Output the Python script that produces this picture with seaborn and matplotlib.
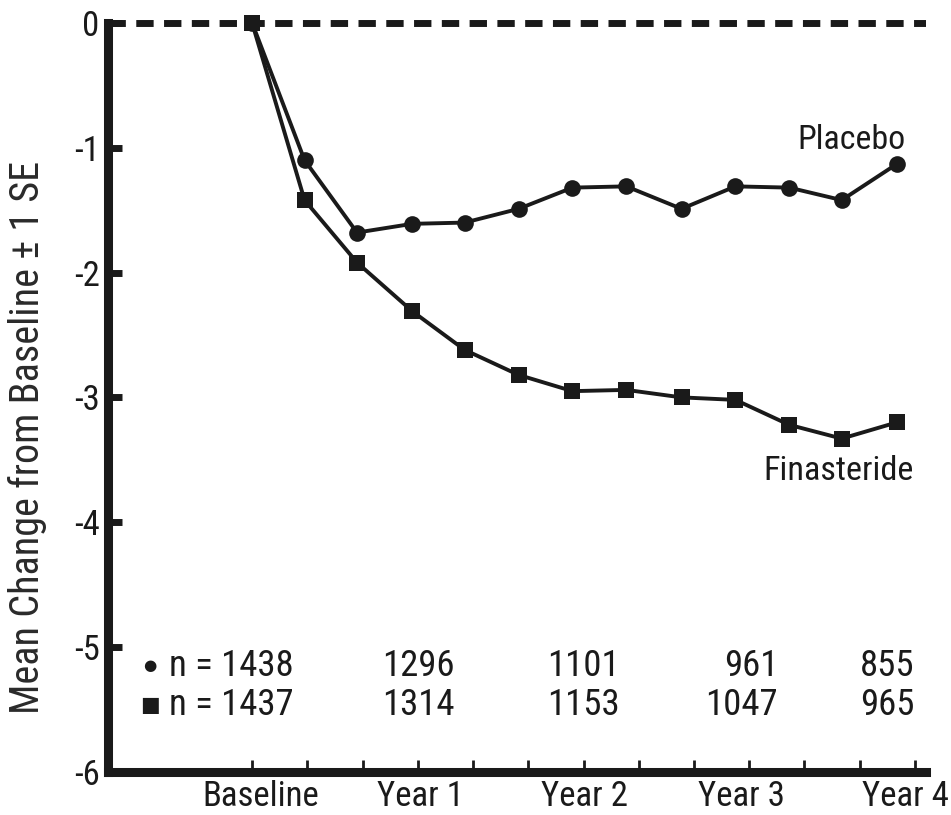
import matplotlib
matplotlib.use("Agg")
import matplotlib.pyplot as plt
from matplotlib import font_manager as fm
from matplotlib.transforms import ScaledTranslation
import seaborn as sns
import pandas as pd

# ---- data ----
visit_month = [0, 3.8, 7.6, 11.6, 15.4, 19.3, 23.2, 27.1, 31.1, 35.0, 38.9, 42.7, 46.7]
placebo = [0, -1.10, -1.68, -1.61, -1.60, -1.49, -1.32, -1.31, -1.49, -1.31, -1.32, -1.42, -1.13]
finasteride = [0, -1.42, -1.92, -2.31, -2.62, -2.82, -2.95, -2.94, -3.00, -3.02, -3.22, -3.33, -3.20]

tick_months = [0, 4, 8, 12, 16, 20, 24, 28, 32, 36, 40, 44, 48]
tick_labels = ["Baseline", "", "", "Year 1", "", "", "Year 2", "", "", "Year 3", "", "", "Year 4"]
y_ticks = [0, -1, -2, -3, -4, -5, -6]

n_placebo = ["1438", "1296", "1101", "961", "855"]
n_finasteride = ["1437", "1314", "1153", "1047", "965"]
n_right_month = [3.0, 14.7, 26.6, 38.1, 48.0]

sns.set_theme(style="ticks")
plt.rcParams["font.family"] = ["Liberation Sans", "DejaVu Sans"]

# ---- pick a condensed sans face if one is installed ----
prefs = ["Liberation Sans Narrow", "Roboto Condensed", "Open Sans Condensed",
         "Noto Sans Condensed", "DejaVu Sans Condensed", "Arial Narrow", "Nimbus Sans Narrow"]
chosen = None
ents = fm.fontManager.ttflist
def _regular(e):
    w = e.weight
    return (w in (400, "normal", "regular", "book", "Regular")) and e.style == "normal"
for p in prefs:
    for e in ents:
        if e.name == p and _regular(e):
            chosen = e.fname
            break
    if chosen:
        break
if chosen is None:
    for e in ents:
        if e.name in ("Noto Sans", "Roboto", "Open Sans", "DejaVu Sans", "Liberation Sans") \
                and str(e.stretch) in ("condensed", "semi-condensed") and _regular(e):
            chosen = e.fname
            break

def fp(size):
    if chosen:
        return fm.FontProperties(fname=chosen, size=size)
    return fm.FontProperties(family=["Liberation Sans", "DejaVu Sans"], size=size)

INK = "#1a1a1a"

df = pd.DataFrame({
    "month": visit_month * 2,
    "change": placebo + finasteride,
    "group": ["Placebo"] * len(visit_month) + ["Finasteride"] * len(visit_month),
})

fig = plt.figure(figsize=(9.51, 8.15), dpi=100)
ax = fig.add_axes([0.1136, 0.0528, 0.8601, 0.9422])

ax.axhline(0, color=INK, lw=5, linestyle=(0, (2.5, 1.5)), zorder=1)

sns.lineplot(data=df, x="month", y="change", hue="group", style="group",
             palette={"Placebo": INK, "Finasteride": INK},
             markers={"Placebo": "o", "Finasteride": "s"}, dashes=False,
             markersize=12, linewidth=2.8, markeredgewidth=0,
             legend=False, ax=ax, zorder=3, clip_on=False)

ax.set_xlim(-10.43, 48.8)
ax.set_ylim(-6, 0.15)

for s in ["top", "right"]:
    ax.spines[s].set_visible(False)
for s in ["left", "bottom"]:
    ax.spines[s].set_linewidth(6.5)
    ax.spines[s].set_color(INK)
    ax.spines[s].set_capstyle("projecting")
ax.spines["left"].set_bounds(-6, 0)

ax.set_xticks(tick_months)
ax.set_xticklabels(tick_labels)
ax.set_yticks(y_ticks)
ax.set_yticklabels([str(v) for v in y_ticks])
ax.tick_params(axis="x", direction="in", length=9, width=2, color=INK,
               pad=6, labelcolor=INK)
ax.tick_params(axis="y", direction="in", length=10, width=5, color=INK,
               pad=6, labelcolor=INK)
ax.set_xlabel("")
ylab = ax.set_ylabel("Mean Change from Baseline \u00b1 1 SE", color="#2a2a2a",
                     fontproperties=fp(23))
ax.yaxis.set_label_coords(-0.0746, 0.435)

t_plac = ax.text(47.3, -1.01, "Placebo", ha="right", va="baseline", color=INK,
                 fontproperties=fp(25))
t_fin = ax.text(47.9, -3.66, "Finasteride", ha="right", va="baseline", color=INK,
                fontproperties=fp(25))

row_y = [-5.15, -5.46]
row_texts = []
for i, (a, b) in enumerate(zip(n_placebo, n_finasteride)):
    la = ("n = " + a) if i == 0 else a
    lb = ("n = " + b) if i == 0 else b
    row_texts.append(ax.text(n_right_month[i], row_y[0], la, ha="right", va="center",
                             color=INK, fontproperties=fp(25)))
    row_texts.append(ax.text(n_right_month[i], row_y[1], lb, ha="right", va="center",
                             color=INK, fontproperties=fp(25)))
ax.text(-7.4, row_y[0], "\u25cf", ha="center", va="center", fontsize=11, color=INK,
        family=["DejaVu Sans"])
ax.text(-7.4, row_y[1], "\u25a0", ha="center", va="center", fontsize=15, color=INK,
        family=["DejaVu Sans"])

for lab in ax.get_xticklabels() + ax.get_yticklabels():
    lab.set_fontproperties(fp(26))

# ---- size the texts so that their widths match the reference ----
fig.canvas.draw()
r = fig.canvas.get_renderer()
def scale_for(t, target, vertical=False):
    bb = t.get_window_extent(r)
    w = bb.height if vertical else bb.width
    return t.get_fontsize() * target / w

base = [l for l in ax.get_xticklabels() if l.get_text() == "Baseline"][0]
s_tick = scale_for(base, 117)
for lab in ax.get_xticklabels() + ax.get_yticklabels():
    lab.set_fontproperties(fp(s_tick))
ylab.set_fontproperties(fp(scale_for(ylab, 555, vertical=True)))
t_plac.set_fontproperties(fp(scale_for(t_plac, 108)))
t_fin.set_fontproperties(fp(scale_for(t_fin, 151)))
s_row = scale_for(row_texts[0], 125)
for t in row_texts:
    t.set_fontproperties(fp(s_row))

# small horizontal shifts of the x tick labels, as in the reference (pixels)
label_shift_px = {"Baseline": 9, "Year 1": 3, "Year 2": 1, "Year 3": -8, "Year 4": -10}
for lab in ax.get_xticklabels():
    dx = label_shift_px.get(lab.get_text(), 0)
    if dx:
        lab.set_transform(lab.get_transform() + ScaledTranslation(dx / 100, 0, fig.dpi_scale_trans))

fig.savefig("out.png", dpi=100)
